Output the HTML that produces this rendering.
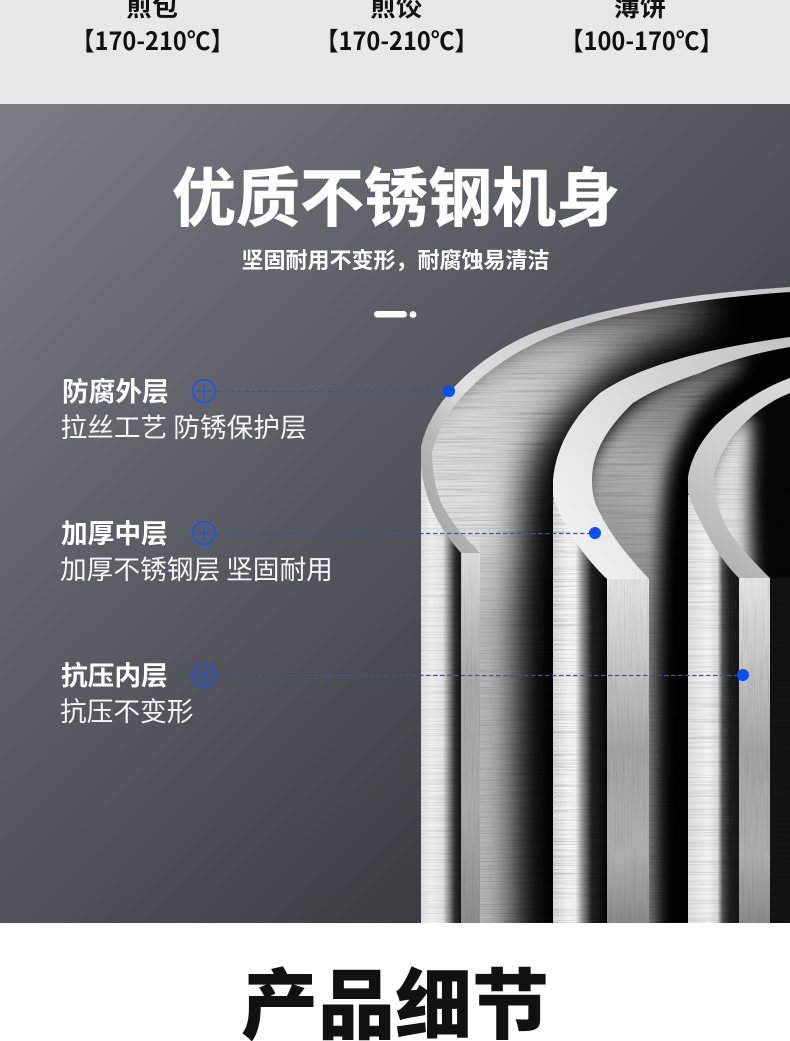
<!DOCTYPE html>
<html lang="zh">
<head>
<meta charset="utf-8">
<title>优质不锈钢机身</title>
<style>
html,body{margin:0;padding:0;background:#fff;}
body{width:790px;height:1041px;overflow:hidden;}
svg{display:block;}
text{font-family:"Liberation Sans","Noto Sans CJK SC",sans-serif;}
.cjk{font-family:"Noto Sans CJK SC","Liberation Sans",sans-serif;}
</style>
</head>
<body>
<svg width="790" height="1041" viewBox="0 0 790 1041" xmlns="http://www.w3.org/2000/svg">
<defs>
  <linearGradient id="bg" gradientUnits="userSpaceOnUse" x1="0" y1="104" x2="640" y2="760">
    <stop offset="0" stop-color="#7a7d83"/>
    <stop offset=".3" stop-color="#66686f"/>
    <stop offset=".65" stop-color="#505259"/>
    <stop offset="1" stop-color="#383a40"/>
  </linearGradient>
  <linearGradient id="col1" gradientUnits="userSpaceOnUse" x1="421" y1="0" x2="461" y2="0">
    <stop offset="0" stop-color="#e2e2e2"/><stop offset=".25" stop-color="#f2f2f2"/>
    <stop offset=".55" stop-color="#e4e4e4"/><stop offset=".72" stop-color="#808080"/>
    <stop offset=".85" stop-color="#2e2e2e"/><stop offset="1" stop-color="#141414"/>
  </linearGradient>
  <linearGradient id="col2" gradientUnits="userSpaceOnUse" x1="553" y1="0" x2="607" y2="0">
    <stop offset="0" stop-color="#d8d8d8"/><stop offset=".28" stop-color="#f6f6f6"/>
    <stop offset=".42" stop-color="#f4f4f4"/><stop offset=".55" stop-color="#909090"/>
    <stop offset=".72" stop-color="#222"/><stop offset="1" stop-color="#060606"/>
  </linearGradient>
  <linearGradient id="col3" gradientUnits="userSpaceOnUse" x1="688" y1="0" x2="739" y2="0">
    <stop offset="0" stop-color="#dedede"/><stop offset=".4" stop-color="#f4f4f4"/>
    <stop offset=".58" stop-color="#dcdcdc"/><stop offset=".68" stop-color="#505050"/>
    <stop offset=".82" stop-color="#202020"/><stop offset="1" stop-color="#161616"/>
  </linearGradient>
  <linearGradient id="lit1" gradientUnits="userSpaceOnUse" x1="450" y1="460" x2="730" y2="305">
    <stop offset="0" stop-color="#dedede"/><stop offset=".45" stop-color="#c0c0c0"/><stop offset="1" stop-color="#686868"/>
  </linearGradient>
  <linearGradient id="lit2" gradientUnits="userSpaceOnUse" x1="600" y1="600" x2="730" y2="370">
    <stop offset="0" stop-color="#8c8c8c"/><stop offset=".5" stop-color="#aeaeae"/><stop offset="1" stop-color="#6a6a6a"/>
  </linearGradient>
  <linearGradient id="lowShade" gradientUnits="userSpaceOnUse" x1="0" y1="520" x2="0" y2="620">
    <stop offset="0" stop-color="#000" stop-opacity="0"/><stop offset="1" stop-color="#000" stop-opacity=".16"/>
  </linearGradient>
  <linearGradient id="strip1" gradientUnits="userSpaceOnUse" x1="0" y1="553" x2="0" y2="923">
    <stop offset="0" stop-color="#dcdcdc"/><stop offset=".15" stop-color="#c6c6c6"/>
    <stop offset=".35" stop-color="#a8a8a8"/><stop offset=".7" stop-color="#aaa"/><stop offset="1" stop-color="#8c8c8c"/>
  </linearGradient>
  <linearGradient id="strip2" gradientUnits="userSpaceOnUse" x1="0" y1="578" x2="0" y2="923">
    <stop offset="0" stop-color="#e4e4e4"/><stop offset=".25" stop-color="#c6c6c6"/>
    <stop offset=".5" stop-color="#a4a4a4"/><stop offset=".8" stop-color="#afafaf"/><stop offset="1" stop-color="#8a8a8a"/>
  </linearGradient>
  <linearGradient id="rim1" gradientUnits="userSpaceOnUse" x1="421" y1="500" x2="790" y2="290">
    <stop offset="0" stop-color="#a9a9a9"/><stop offset=".1" stop-color="#b8b8b8"/>
    <stop offset=".22" stop-color="#e0e0e0"/><stop offset=".55" stop-color="#c6c6c6"/>
    <stop offset=".8" stop-color="#d6d6d6"/><stop offset="1" stop-color="#c2c2c2"/>
  </linearGradient>
  <linearGradient id="rim2" gradientUnits="userSpaceOnUse" x1="553" y1="500" x2="790" y2="340">
    <stop offset="0" stop-color="#efefef"/><stop offset=".35" stop-color="#dddddd"/>
    <stop offset=".7" stop-color="#cdcdcd"/><stop offset="1" stop-color="#c4c4c4"/>
  </linearGradient>
  <linearGradient id="rim3" gradientUnits="userSpaceOnUse" x1="688" y1="540" x2="790" y2="380">
    <stop offset="0" stop-color="#b4b4b4"/><stop offset=".5" stop-color="#cfcfcf"/><stop offset="1" stop-color="#d8d8d8"/>
  </linearGradient>
  <filter id="b18" x="-30%" y="-30%" width="160%" height="160%" color-interpolation-filters="sRGB"><feGaussianBlur stdDeviation="17"/></filter>
  <filter id="b9" x="-30%" y="-30%" width="160%" height="160%" color-interpolation-filters="sRGB"><feGaussianBlur stdDeviation="8"/></filter>
  <filter id="brush" x="0" y="0" width="100%" height="100%" color-interpolation-filters="sRGB">
    <feTurbulence type="fractalNoise" baseFrequency="0.012 0.75" numOctaves="2" seed="7"/>
    <feColorMatrix type="matrix" values="0 0 0 0 0  0 0 0 0 0  0 0 0 0 0  1.4 0 0 0 -.62"/>
  </filter>
  <filter id="brushV" x="0" y="0" width="100%" height="100%" color-interpolation-filters="sRGB">
    <feTurbulence type="fractalNoise" baseFrequency="0.7 0.02" numOctaves="2" seed="3"/>
    <feColorMatrix type="matrix" values="0 0 0 0 0  0 0 0 0 0  0 0 0 0 0  1.1 0 0 0 -.5"/>
  </filter>
  <clipPath id="c1"><path d="M421,923V447C430,405 470,360 533,333C590,310 680,294 790,287V923Z"/></clipPath>
  <clipPath id="c2"><path d="M553,923V480C556,445 575,415 600,393C640,365 710,348 790,337V923Z"/></clipPath>
  <clipPath id="c3"><path d="M688,923V477C692,450 712,425 733,410C750,397 770,385 790,378V923Z"/></clipPath>
  <clipPath id="k1"><path d="M421,923V463C421,472 423,482 427,495C433,515 445,535 461,553V923Z"/></clipPath>
  <clipPath id="k2"><path d="M553,923V497C565,530 585,558 607,579V923Z"/></clipPath>
  <clipPath id="k3"><path d="M688,923V493C700,525 720,560 739,578V923Z"/></clipPath>
  <clipPath id="x1"><rect x="421" y="465" width="60" height="458"/></clipPath>
  <clipPath id="x2"><rect x="553" y="499" width="60" height="424"/></clipPath>
  <clipPath id="x3"><rect x="688" y="495" width="60" height="428"/></clipPath>
</defs>

<rect x="0" y="0" width="790" height="104" fill="#e7e7e7"/>
<g fill="#111" font-weight="700" font-size="26" text-anchor="middle">
  <text class="cjk" x="152" y="16">煎包</text>
  <text class="cjk" x="396" y="16">煎饺</text>
  <text class="cjk" x="640" y="16">薄饼</text>
</g>
<g fill="#111" font-weight="700" font-size="25" text-anchor="middle">
  <text class="cjk" transform="translate(152.5,50) scale(.945,1)">【170-210℃】</text>
  <text class="cjk" transform="translate(396.5,50) scale(.945,1)">【170-210℃】</text>
  <text class="cjk" transform="translate(641.5,50) scale(.945,1)">【100-170℃】</text>
</g>

<rect x="0" y="104" width="790" height="819" fill="url(#bg)"/>

<!-- pot shell 1 interior -->
<g clip-path="url(#c1)">
  <rect x="421" y="280" width="369" height="643" fill="#030303"/>
  <path d="M390,960V450C430,390 500,340 570,320C620,306 690,298 715,296L700,325C630,348 570,390 535,450C520,490 514,530 514,960Z" fill="url(#lit1)" filter="url(#b18)"/>
  <rect x="480" y="520" width="73" height="403" fill="url(#lowShade)"/>
  <rect x="421" y="290" width="369" height="633" filter="url(#brush)" opacity=".3"/>
</g>
<!-- outer column 1 -->
<g clip-path="url(#x1)"><path d="M421,923V463C421,472 423,482 427,495C433,515 445,535 461,553V923Z" fill="url(#col1)" stroke="url(#col1)" stroke-width="1"/></g>
<rect x="461" y="553" width="19" height="370" fill="url(#strip1)"/>
<!-- rim 1 -->
<path d="M421,447C430,405 470,360 533,333C590,310 680,294 790,287V292C700,298 620,312 567,330C505,352 445,395 432,453C432,470 436,495 445,510C455,528 468,540 480,553H461C445,535 433,515 427,495C423,482 421,472 421,463Z" fill="url(#rim1)"/>

<!-- pot shell 2 interior -->
<g clip-path="url(#c2)">
  <rect x="553" y="330" width="237" height="593" fill="#030303"/>
  <path d="M585,950V480C600,430 640,392 700,368C725,360 740,356 748,354L735,376C700,395 680,430 668,470C660,510 656,560 656,950Z" fill="url(#lit2)" filter="url(#b9)"/>
  <rect x="553" y="340" width="237" height="583" filter="url(#brush)" opacity=".3"/>
</g>
<g clip-path="url(#x2)"><path d="M553,923V497C565,530 585,558 607,579V923Z" fill="url(#col2)" stroke="url(#col2)" stroke-width="1"/></g>
<rect x="607" y="579" width="42" height="344" fill="url(#strip2)"/>
<!-- rim 2 -->
<path d="M553,480C556,445 575,415 600,393C640,365 710,348 790,337V347C755,353 725,362 700,373C670,383 650,392 633,403C610,425 592,450 592,480C592,495 595,505 600,513C612,538 630,558 649,579H607C585,558 565,530 553,497Z" fill="url(#rim2)"/>

<!-- pot shell 3 interior -->
<g clip-path="url(#c3)">
  <rect x="688" y="370" width="102" height="553" fill="#070707"/>
  <path d="M705,620V480C715,445 730,425 750,412L752,445C750,470 748,510 754,620Z" fill="#e0e0e0" filter="url(#b9)"/>
  <rect x="770" y="578" width="20" height="345" fill="#131313"/>
  <rect x="688" y="380" width="102" height="543" filter="url(#brush)" opacity=".25"/>
</g>
<g clip-path="url(#x3)"><path d="M688,923V493C700,525 720,560 739,578V923Z" fill="url(#col3)" stroke="url(#col3)" stroke-width="1"/></g>
<rect x="739" y="578" width="31" height="345" fill="url(#strip2)"/>
<!-- rim 3 -->
<path d="M688,477C692,450 712,425 733,410C750,397 770,385 790,378V393C765,403 745,420 730,440C718,460 714,470 714,480C716,505 722,522 733,537C745,553 758,566 770,578H739C720,560 700,525 688,493Z" fill="url(#rim3)"/>

<!-- column brushing -->
<g clip-path="url(#k1)"><rect x="421" y="460" width="40" height="463" filter="url(#brush)" opacity=".25"/></g>
<g clip-path="url(#k2)"><rect x="553" y="495" width="54" height="428" filter="url(#brush)" opacity=".35"/></g>
<g clip-path="url(#k3)"><rect x="688" y="490" width="51" height="433" filter="url(#brush)" opacity=".25"/></g>
<rect x="461" y="553" width="19" height="370" filter="url(#brushV)" opacity=".2"/>
<rect x="607" y="579" width="42" height="344" filter="url(#brushV)" opacity=".2"/>
<rect x="739" y="578" width="31" height="345" filter="url(#brushV)" opacity=".2"/>

<!-- heading -->
<text class="cjk" x="396" y="221" fill="#fff" font-size="64" font-weight="700" text-anchor="middle" stroke="#fff" stroke-width=".6">优质不锈钢机身</text>
<text class="cjk" x="395.5" y="268" fill="#fff" font-size="22" font-weight="700" text-anchor="middle">坚固耐用不变形，耐腐蚀易清洁</text>
<rect x="374" y="311" width="33" height="6.5" rx="3.25" fill="#fff"/>
<circle cx="413" cy="314.5" r="3.4" fill="#fff"/>

<!-- labels -->
<g fill="#fff">
  <text class="cjk" x="62" y="401" font-size="26.7" font-weight="700">防腐外层</text>
  <text class="cjk" x="60.5" y="437" font-size="26.7" font-weight="400" fill-opacity=".95">拉丝工艺 防锈保护层</text>
  <text class="cjk" x="61" y="543" font-size="26.7" font-weight="700">加厚中层</text>
  <text class="cjk" x="60" y="579" font-size="26.7" font-weight="400" fill-opacity=".95">加厚不锈钢层 坚固耐用</text>
  <text class="cjk" x="61" y="685" font-size="26.7" font-weight="700">抗压内层</text>
  <text class="cjk" x="60" y="721" font-size="26.7" font-weight="400" fill-opacity=".95">抗压不变形</text>
</g>

<!-- markers -->
<g fill="none" stroke="#1a56f0" stroke-width="1.3">
  <circle cx="204" cy="391" r="11.3" stroke-width="1.7"/>
  <path d="M196,391H212M204,383V399"/>
  <path d="M216,391.5H445" stroke-dasharray="4.5 2.5" stroke-width="1.2"/>
  <circle cx="204" cy="533" r="11.3" stroke-width="1.7"/>
  <path d="M196,533H212M204,525V541"/>
  <path d="M216,533.5H590" stroke-dasharray="4.5 2.5" stroke-width="1.2"/>
  <circle cx="204" cy="675" r="11.3" stroke-width="1.7"/>
  <path d="M196,675H212M204,667V683"/>
  <path d="M216,675.5H739" stroke-dasharray="4.5 2.5" stroke-width="1.2"/>
</g>
<g fill="#0750f5">
  <circle cx="449" cy="391" r="6"/>
  <circle cx="595" cy="533" r="6"/>
  <circle cx="743" cy="675" r="6"/>
</g>

<!-- bottom -->
<rect x="0" y="923" width="790" height="118" fill="#fff"/>
<text class="cjk" x="395" y="1033" fill="#111" font-size="77" font-weight="900" text-anchor="middle">产品细节</text>
</svg>
</body>
</html>
